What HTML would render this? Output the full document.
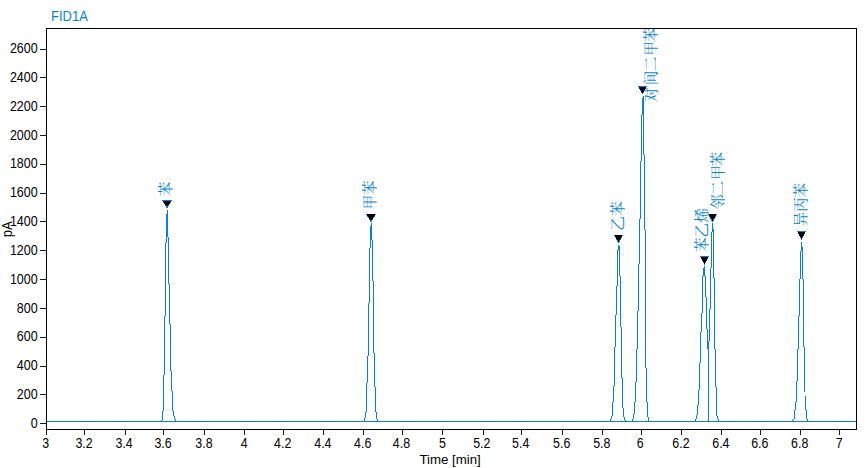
<!DOCTYPE html>
<html><head><meta charset="utf-8"><title>FID1A</title>
<style>html,body{margin:0;padding:0;background:#fff;}body{width:865px;height:468px;overflow:hidden;}svg{display:block;}</style>
</head><body>
<svg width="865" height="468" viewBox="0 0 865 468"><defs><clipPath id="pc"><rect x="47" y="29" width="809" height="400"/></clipPath></defs><rect width="865" height="468" fill="#fff"/><g fill="#000" shape-rendering="crispEdges"><rect x="46" y="28" width="811" height="1"/><rect x="46" y="429" width="811" height="1"/><rect x="46" y="28" width="1" height="402"/><rect x="856" y="28" width="1" height="402"/></g><g fill="#0f1b2d" shape-rendering="crispEdges"><rect x="40" y="49" width="6" height="1"/><rect x="40" y="77" width="6" height="1"/><rect x="40" y="106" width="6" height="1"/><rect x="40" y="135" width="6" height="1"/><rect x="40" y="164" width="6" height="1"/><rect x="40" y="193" width="6" height="1"/><rect x="40" y="221" width="6" height="1"/><rect x="40" y="250" width="6" height="1"/><rect x="40" y="279" width="6" height="1"/><rect x="40" y="308" width="6" height="1"/><rect x="40" y="337" width="6" height="1"/><rect x="40" y="366" width="6" height="1"/><rect x="40" y="394" width="6" height="1"/><rect x="40" y="423" width="6" height="1"/><rect x="46" y="430" width="1" height="5"/><rect x="84" y="430" width="1" height="5"/><rect x="125" y="430" width="1" height="5"/><rect x="163" y="430" width="1" height="5"/><rect x="204" y="430" width="1" height="5"/><rect x="244" y="430" width="1" height="5"/><rect x="283" y="430" width="1" height="5"/><rect x="323" y="430" width="1" height="5"/><rect x="363" y="430" width="1" height="5"/><rect x="402" y="430" width="1" height="5"/><rect x="442" y="430" width="1" height="5"/><rect x="483" y="430" width="1" height="5"/><rect x="521" y="430" width="1" height="5"/><rect x="562" y="430" width="1" height="5"/><rect x="602" y="430" width="1" height="5"/><rect x="641" y="430" width="1" height="5"/><rect x="681" y="430" width="1" height="5"/><rect x="721" y="430" width="1" height="5"/><rect x="760" y="430" width="1" height="5"/><rect x="800" y="430" width="1" height="5"/><rect x="839" y="430" width="1" height="5"/></g><g font-family="'Liberation Sans', sans-serif" font-size="13" fill="#000"><text transform="translate(37.7 53) scale(0.962 1.08)" text-anchor="end">2600</text><text transform="translate(37.7 82) scale(0.962 1.08)" text-anchor="end">2400</text><text transform="translate(37.7 111) scale(0.962 1.08)" text-anchor="end">2200</text><text transform="translate(37.7 140) scale(0.962 1.08)" text-anchor="end">2000</text><text transform="translate(37.7 168) scale(0.962 1.08)" text-anchor="end">1800</text><text transform="translate(37.7 197) scale(0.962 1.08)" text-anchor="end">1600</text><text transform="translate(37.7 226) scale(0.962 1.08)" text-anchor="end">1400</text><text transform="translate(37.7 255) scale(0.962 1.08)" text-anchor="end">1200</text><text transform="translate(37.7 284) scale(0.962 1.08)" text-anchor="end">1000</text><text transform="translate(37.7 313) scale(0.962 1.08)" text-anchor="end">800</text><text transform="translate(37.7 341) scale(0.962 1.08)" text-anchor="end">600</text><text transform="translate(37.7 370) scale(0.962 1.08)" text-anchor="end">400</text><text transform="translate(37.7 399) scale(0.962 1.08)" text-anchor="end">200</text><text transform="translate(37.7 428) scale(0.962 1.08)" text-anchor="end">0</text><text transform="translate(45.65 448) scale(0.955 1.08)" text-anchor="middle">3</text><text transform="translate(84.00 448) scale(0.955 1.08)" text-anchor="middle">3.2</text><text transform="translate(124.00 448) scale(0.955 1.08)" text-anchor="middle">3.4</text><text transform="translate(163.05 448) scale(0.955 1.08)" text-anchor="middle">3.6</text><text transform="translate(203.90 448) scale(0.955 1.08)" text-anchor="middle">3.8</text><text transform="translate(244.25 448) scale(0.955 1.08)" text-anchor="middle">4</text><text transform="translate(282.70 448) scale(0.955 1.08)" text-anchor="middle">4.2</text><text transform="translate(322.85 448) scale(0.955 1.08)" text-anchor="middle">4.4</text><text transform="translate(362.65 448) scale(0.955 1.08)" text-anchor="middle">4.6</text><text transform="translate(401.40 448) scale(0.955 1.08)" text-anchor="middle">4.8</text><text transform="translate(442.50 448) scale(0.955 1.08)" text-anchor="middle">5</text><text transform="translate(481.80 448) scale(0.955 1.08)" text-anchor="middle">5.2</text><text transform="translate(520.70 448) scale(0.955 1.08)" text-anchor="middle">5.4</text><text transform="translate(561.65 448) scale(0.955 1.08)" text-anchor="middle">5.6</text><text transform="translate(601.80 448) scale(0.955 1.08)" text-anchor="middle">5.8</text><text transform="translate(640.10 448) scale(0.955 1.08)" text-anchor="middle">6</text><text transform="translate(680.90 448) scale(0.955 1.08)" text-anchor="middle">6.2</text><text transform="translate(720.85 448) scale(0.955 1.08)" text-anchor="middle">6.4</text><text transform="translate(759.80 448) scale(0.955 1.08)" text-anchor="middle">6.6</text><text transform="translate(799.65 448) scale(0.955 1.08)" text-anchor="middle">6.8</text><text transform="translate(839.20 448) scale(0.955 1.08)" text-anchor="middle">7</text></g><text transform="translate(450.1 464.4) scale(1.02 1.05)" text-anchor="middle" font-family="'Liberation Sans', sans-serif" font-size="13" fill="#000">Time [min]</text><text transform="translate(11.6 229.3) rotate(-90) scale(1 1.08)" text-anchor="middle" font-family="'Liberation Sans', sans-serif" font-size="13" fill="#000">pA</text><text transform="translate(51 21) scale(1 1.08)" font-family="'Liberation Sans', sans-serif" font-size="13" fill="#0a7fd6">FID1A</text><g clip-path="url(#pc)"><rect x="47" y="421" width="809" height="1" fill="#0a7fd6" shape-rendering="crispEdges"/><path d="M167 210h1v4h-1zM166 214h1v29h-1zM165 243h1v73h-1zM164 316h1v59h-1zM163 375h1v36h-1zM162 411h1v9h-1zM161 420h1v2h-1zM167 210h1v27h-1zM168 237h1v47h-1zM169 284h1v40h-1zM170 324h1v47h-1zM171 371h1v20h-1zM172 391h1v20h-1zM173 411h1v5h-1zM174 416h1v3h-1zM175 419h1v3h-1zM371 223h1v3h-1zM370 226h1v22h-1zM369 248h1v55h-1zM368 303h1v53h-1zM367 356h1v27h-1zM366 383h1v29h-1zM365 412h1v6h-1zM364 418h1v4h-1zM371 223h1v17h-1zM372 240h1v41h-1zM373 281h1v72h-1zM374 353h1v34h-1zM375 387h1v25h-1zM376 412h1v7h-1zM377 419h1v3h-1zM618 245h1v5h-1zM617 250h1v36h-1zM616 286h1v29h-1zM615 315h1v32h-1zM614 347h1v39h-1zM613 386h1v16h-1zM612 402h1v14h-1zM611 416h1v3h-1zM610 419h1v3h-1zM618 245h1v1h-1zM619 246h1v30h-1zM620 276h1v51h-1zM621 327h1v51h-1zM622 378h1v30h-1zM623 408h1v9h-1zM624 417h1v3h-1zM625 420h1v2h-1zM643 96h1v2h-1zM642 98h1v17h-1zM641 115h1v46h-1zM640 161h1v58h-1zM639 219h1v45h-1zM638 264h1v47h-1zM637 311h1v38h-1zM636 349h1v33h-1zM635 382h1v20h-1zM634 402h1v12h-1zM633 414h1v5h-1zM632 419h1v3h-1zM643 96h1v59h-1zM644 155h1v75h-1zM645 230h1v138h-1zM646 368h1v34h-1zM647 402h1v15h-1zM648 417h1v5h-1zM704 266h1v2h-1zM703 268h1v8h-1zM702 276h1v37h-1zM701 313h1v19h-1zM700 332h1v31h-1zM699 363h1v27h-1zM698 390h1v15h-1zM697 405h1v10h-1zM696 415h1v4h-1zM695 419h1v3h-1zM704 266h1v10h-1zM705 276h1v21h-1zM706 297h1v32h-1zM707 329h1v20h-1zM708 349h1v73h-1zM712 223h1v9h-1zM711 232h1v36h-1zM710 268h1v41h-1zM709 309h1v32h-1zM708 341h1v81h-1zM712 223h1v6h-1zM713 229h1v49h-1zM714 278h1v71h-1zM715 349h1v38h-1zM716 387h1v29h-1zM717 416h1v3h-1zM718 419h1v3h-1zM801 242h1v9h-1zM800 251h1v28h-1zM799 279h1v37h-1zM798 316h1v33h-1zM797 349h1v32h-1zM796 381h1v21h-1zM795 402h1v8h-1zM794 410h1v9h-1zM793 419h1v1h-1zM792 420h1v2h-1zM801 242h1v5h-1zM802 247h1v32h-1zM803 279h1v68h-1zM804 347h1v45h-1zM805 396h1v14h-1zM806 410h1v9h-1zM807 419h1v3h-1z" fill="#0a7fd6" shape-rendering="crispEdges"/><g font-family="'Liberation Serif', 'Noto Serif CJK SC', serif" font-size="14.6" font-weight="400" fill="#0a7fd6"><text transform="translate(171.15 196.20) rotate(-90)">苯</text><text transform="translate(375.10 209.30) rotate(-90)">甲</text><text transform="translate(375.10 195.00) rotate(-90)">苯</text><text transform="translate(622.65 230.85) rotate(-90)">乙</text><text transform="translate(622.65 215.90) rotate(-90)">苯</text><text transform="translate(656.15 101.90) rotate(-90)">对</text><text transform="translate(656.15 85.20) rotate(-90)">间</text><text transform="translate(656.15 71.15) rotate(-90)">二</text><text transform="translate(656.15 55.50) rotate(-90)">甲</text><text transform="translate(656.15 42.00) rotate(-90)">苯</text><text transform="translate(707.40 252.10) rotate(-90)">苯</text><text transform="translate(707.40 237.40) rotate(-90)">乙</text><text transform="translate(707.40 222.40) rotate(-90)">烯</text><text transform="translate(723.35 209.05) rotate(-90)">邻</text><text transform="translate(723.35 195.50) rotate(-90)">二</text><text transform="translate(723.35 179.80) rotate(-90)">甲</text><text transform="translate(723.35 166.45) rotate(-90)">苯</text><text transform="translate(805.50 226.60) rotate(-90)">异</text><text transform="translate(805.50 212.10) rotate(-90)">丙</text><text transform="translate(805.50 197.55) rotate(-90)">苯</text></g><path d="M162 200h1v1h-1zM163 200h1v1h-1zM164 200h1v1h-1zM165 200h1v1h-1zM166 200h1v1h-1zM167 200h1v1h-1zM168 200h1v1h-1zM169 200h1v1h-1zM170 200h1v1h-1zM171 200h1v1h-1zM163 202h1v1h-1zM170 202h1v1h-1zM165 205h1v1h-1zM168 205h1v1h-1zM166 206h1v1h-1zM167 206h1v1h-1zM166 207h1v1h-1zM167 207h1v1h-1zM366 214h1v1h-1zM375 214h1v1h-1zM367 216h1v1h-1zM374 216h1v1h-1zM368 217h1v1h-1zM373 217h1v1h-1zM369 219h1v1h-1zM372 219h1v1h-1zM370 220h1v1h-1zM371 220h1v1h-1zM370 221h1v1h-1zM371 221h1v1h-1zM614 235h1v1h-1zM622 235h1v1h-1zM615 237h1v1h-1zM621 237h1v1h-1zM616 239h1v1h-1zM620 239h1v1h-1zM617 240h1v1h-1zM619 240h1v1h-1zM617 241h1v1h-1zM619 241h1v1h-1zM618 242h1v1h-1zM638 86h1v1h-1zM639 86h1v1h-1zM640 86h1v1h-1zM641 86h1v1h-1zM642 86h1v1h-1zM643 86h1v1h-1zM644 86h1v1h-1zM645 86h1v1h-1zM646 86h1v1h-1zM640 90h1v1h-1zM644 90h1v1h-1zM641 92h1v1h-1zM643 92h1v1h-1zM642 93h1v1h-1zM700 256h1v1h-1zM701 256h1v1h-1zM702 256h1v1h-1zM703 256h1v1h-1zM704 256h1v1h-1zM705 256h1v1h-1zM706 256h1v1h-1zM707 256h1v1h-1zM708 256h1v1h-1zM703 262h1v1h-1zM705 262h1v1h-1zM704 264h1v1h-1zM708 214h1v1h-1zM716 214h1v1h-1zM709 216h1v1h-1zM715 216h1v1h-1zM710 218h1v1h-1zM714 218h1v1h-1zM711 219h1v1h-1zM713 219h1v1h-1zM711 220h1v1h-1zM713 220h1v1h-1zM712 221h1v1h-1zM797 231h1v1h-1zM798 231h1v1h-1zM799 231h1v1h-1zM800 231h1v1h-1zM801 231h1v1h-1zM802 231h1v1h-1zM803 231h1v1h-1zM804 231h1v1h-1zM805 231h1v1h-1zM800 237h1v1h-1zM802 237h1v1h-1zM801 239h1v1h-1z" fill="#0a7fd6" shape-rendering="crispEdges"/><path d="M163 201h1v1h-1zM164 201h1v1h-1zM165 201h1v1h-1zM166 201h1v1h-1zM167 201h1v1h-1zM168 201h1v1h-1zM169 201h1v1h-1zM170 201h1v1h-1zM164 202h1v1h-1zM165 202h1v1h-1zM166 202h1v1h-1zM167 202h1v1h-1zM168 202h1v1h-1zM169 202h1v1h-1zM164 203h1v1h-1zM165 203h1v1h-1zM166 203h1v1h-1zM167 203h1v1h-1zM168 203h1v1h-1zM169 203h1v1h-1zM165 204h1v1h-1zM166 204h1v1h-1zM167 204h1v1h-1zM168 204h1v1h-1zM166 205h1v1h-1zM167 205h1v1h-1zM367 214h1v1h-1zM368 214h1v1h-1zM369 214h1v1h-1zM370 214h1v1h-1zM371 214h1v1h-1zM372 214h1v1h-1zM373 214h1v1h-1zM374 214h1v1h-1zM367 215h1v1h-1zM368 215h1v1h-1zM369 215h1v1h-1zM370 215h1v1h-1zM371 215h1v1h-1zM372 215h1v1h-1zM373 215h1v1h-1zM374 215h1v1h-1zM368 216h1v1h-1zM369 216h1v1h-1zM370 216h1v1h-1zM371 216h1v1h-1zM372 216h1v1h-1zM373 216h1v1h-1zM369 217h1v1h-1zM370 217h1v1h-1zM371 217h1v1h-1zM372 217h1v1h-1zM369 218h1v1h-1zM370 218h1v1h-1zM371 218h1v1h-1zM372 218h1v1h-1zM370 219h1v1h-1zM371 219h1v1h-1zM615 235h1v1h-1zM616 235h1v1h-1zM617 235h1v1h-1zM618 235h1v1h-1zM619 235h1v1h-1zM620 235h1v1h-1zM621 235h1v1h-1zM615 236h1v1h-1zM616 236h1v1h-1zM617 236h1v1h-1zM618 236h1v1h-1zM619 236h1v1h-1zM620 236h1v1h-1zM621 236h1v1h-1zM616 237h1v1h-1zM617 237h1v1h-1zM618 237h1v1h-1zM619 237h1v1h-1zM620 237h1v1h-1zM616 238h1v1h-1zM617 238h1v1h-1zM618 238h1v1h-1zM619 238h1v1h-1zM620 238h1v1h-1zM617 239h1v1h-1zM618 239h1v1h-1zM619 239h1v1h-1zM618 240h1v1h-1zM618 241h1v1h-1zM639 87h1v1h-1zM640 87h1v1h-1zM641 87h1v1h-1zM642 87h1v1h-1zM643 87h1v1h-1zM644 87h1v1h-1zM645 87h1v1h-1zM639 88h1v1h-1zM640 88h1v1h-1zM641 88h1v1h-1zM642 88h1v1h-1zM643 88h1v1h-1zM644 88h1v1h-1zM645 88h1v1h-1zM640 89h1v1h-1zM641 89h1v1h-1zM642 89h1v1h-1zM643 89h1v1h-1zM644 89h1v1h-1zM641 90h1v1h-1zM642 90h1v1h-1zM643 90h1v1h-1zM641 91h1v1h-1zM642 91h1v1h-1zM643 91h1v1h-1zM642 92h1v1h-1zM701 257h1v1h-1zM702 257h1v1h-1zM703 257h1v1h-1zM704 257h1v1h-1zM705 257h1v1h-1zM706 257h1v1h-1zM707 257h1v1h-1zM701 258h1v1h-1zM702 258h1v1h-1zM703 258h1v1h-1zM704 258h1v1h-1zM705 258h1v1h-1zM706 258h1v1h-1zM707 258h1v1h-1zM702 259h1v1h-1zM703 259h1v1h-1zM704 259h1v1h-1zM705 259h1v1h-1zM706 259h1v1h-1zM702 260h1v1h-1zM703 260h1v1h-1zM704 260h1v1h-1zM705 260h1v1h-1zM706 260h1v1h-1zM703 261h1v1h-1zM704 261h1v1h-1zM705 261h1v1h-1zM704 262h1v1h-1zM704 263h1v1h-1zM709 214h1v1h-1zM710 214h1v1h-1zM711 214h1v1h-1zM712 214h1v1h-1zM713 214h1v1h-1zM714 214h1v1h-1zM715 214h1v1h-1zM709 215h1v1h-1zM710 215h1v1h-1zM711 215h1v1h-1zM712 215h1v1h-1zM713 215h1v1h-1zM714 215h1v1h-1zM715 215h1v1h-1zM710 216h1v1h-1zM711 216h1v1h-1zM712 216h1v1h-1zM713 216h1v1h-1zM714 216h1v1h-1zM710 217h1v1h-1zM711 217h1v1h-1zM712 217h1v1h-1zM713 217h1v1h-1zM714 217h1v1h-1zM711 218h1v1h-1zM712 218h1v1h-1zM713 218h1v1h-1zM712 219h1v1h-1zM712 220h1v1h-1zM798 232h1v1h-1zM799 232h1v1h-1zM800 232h1v1h-1zM801 232h1v1h-1zM802 232h1v1h-1zM803 232h1v1h-1zM804 232h1v1h-1zM798 233h1v1h-1zM799 233h1v1h-1zM800 233h1v1h-1zM801 233h1v1h-1zM802 233h1v1h-1zM803 233h1v1h-1zM804 233h1v1h-1zM799 234h1v1h-1zM800 234h1v1h-1zM801 234h1v1h-1zM802 234h1v1h-1zM803 234h1v1h-1zM799 235h1v1h-1zM800 235h1v1h-1zM801 235h1v1h-1zM802 235h1v1h-1zM803 235h1v1h-1zM800 236h1v1h-1zM801 236h1v1h-1zM802 236h1v1h-1zM801 237h1v1h-1zM801 238h1v1h-1z" fill="#000" shape-rendering="crispEdges"/></g></svg>
</body></html>
